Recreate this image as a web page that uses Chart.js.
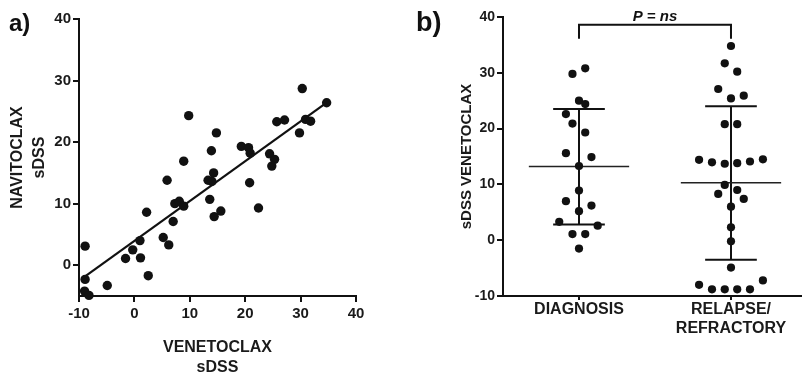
<!DOCTYPE html>
<html><head><meta charset="utf-8">
<script src="https://cdn.jsdelivr.net/npm/chart.js@4/dist/chart.umd.min.js"></script>
<style>
html,body{margin:0;padding:0;background:#fff;width:805px;height:378px;overflow:hidden}
#wa{position:absolute;left:0;top:0;width:400px;height:378px}
#wb{position:absolute;left:400px;top:0;width:405px;height:378px}
.lab{position:absolute;font-family:"Liberation Sans",Arial,sans-serif;font-weight:bold;color:#111;line-height:1}
</style></head><body>
<div id="wa"><canvas id="ca"></canvas></div>
<div id="wb"><canvas id="cb"></canvas></div>
<div class="lab" style="left:9px;top:11px;font-size:24px">a)</div>
<div class="lab" style="left:416px;top:9px;font-size:27px">b)</div>
<script>
// ---------- Panel a data ----------
const venetoclaxSDSS = [-8.9,-8.9,-9.0,-8.2,-4.9,-1.6,-0.3,1.0,1.1,2.5,2.2,5.2,6.2,7.0,7.3,8.1,8.9,5.9,13.3,14.0,14.3,13.6,14.4,15.6,9.8,14.8,13.9,8.9,19.3,20.6,20.9,20.8,22.4,24.4,25.3,24.8,25.7,27.1,30.3,34.7,30.9,31.8,29.8];
const navitoclaxSDSS = [3.1,-2.3,-4.2,-4.9,-3.3,1.1,2.5,4.0,1.2,-1.7,8.6,4.5,3.3,7.1,10.0,10.4,9.6,13.8,13.8,13.6,15.0,10.7,7.9,8.8,24.3,21.5,18.6,16.9,19.3,19.1,18.2,13.4,9.3,18.1,17.2,16.1,23.3,23.6,28.7,26.4,23.7,23.4,21.5];
const fitLineX = [-8.9, 34.7];
const fitLineY = [-1.8, 26.4];
const aXTicks = [-10, 0, 10, 20, 30, 40];
const aYTicks = [0, 10, 20, 30, 40];

// ---------- Panel b data ----------
const categories = ['DIAGNOSIS', 'RELAPSE/\nREFRACTORY'];
const diagnosisValues = [29.8,30.8,25.0,24.4,22.6,20.9,19.3,15.6,14.9,13.3,8.9,7.0,6.2,5.2,3.3,2.6,1.1,1.1,-1.5];
const diagnosisJitter = [-0.043,0.041,0,0.041,-0.086,-0.043,0.041,-0.086,0.082,0,0,-0.086,0.082,0,-0.13,0.123,-0.043,0.041,0];
const relapseValues = [34.8,31.7,30.2,27.1,25.4,25.9,20.8,20.8,14.4,13.95,13.7,13.8,14.1,14.5,9.9,8.3,9.0,7.4,6.0,2.3,-0.2,-4.9,-8.0,-8.8,-8.8,-8.8,-8.8,-7.2];
const relapseJitter = [0,-0.041,0.041,-0.084,0,0.084,-0.041,0.041,-0.21,-0.125,-0.041,0.041,0.125,0.21,-0.041,-0.084,0.041,0.084,0,0,0,0,-0.21,-0.125,-0.041,0.041,0.125,0.21];
const groupMean = [13.2, 10.3];
const groupUpper = [23.5, 24.0];
const groupLower = [2.8, -3.5];
const bTicks = [-10, 0, 10, 20, 30, 40];
const pLabel = 'P = ns';

const FONT = '"Liberation Sans", Arial, sans-serif';
const INK = '#111';

function axisCommon(tickFontSize) {
  return {
    border: {display: true, color: INK, width: 2},
    grid: {drawOnChartArea: false, drawTicks: true, tickLength: 6, color: INK, tickColor: INK, lineWidth: 2, tickWidth: 2},
    ticks: {color: '#1a1a1a', font: {family: FONT, size: tickFontSize, weight: 'bold'}, padding: 2}
  };
}

// ---------- Chart a ----------
const axA = axisCommon(15), ayA = axisCommon(15);
axA.ticks.padding = 3;
new Chart(document.getElementById('ca'), {
  type: 'scatter',
  data: {
    datasets: [
      {data: venetoclaxSDSS.map((v, i) => ({x: v, y: navitoclaxSDSS[i]})), backgroundColor: INK, borderColor: INK, pointRadius: 4.7, pointBorderWidth: 0, clip: false, order: 0},
      {data: fitLineX.map((v, i) => ({x: v, y: fitLineY[i]})), showLine: true, borderColor: INK, borderWidth: 2.2, pointRadius: 0, clip: false, order: 1}
    ]
  },
  options: {
    responsive: true, maintainAspectRatio: false, animation: false,
    layout: {padding: {left: 0, top: 19, right: 44, bottom: 0}},
    plugins: {legend: {display: false}, tooltip: {enabled: false}},
    scales: {
      x: Object.assign(axA, {
        type: 'linear', min: -10, max: 40,
        afterBuildTicks: s => { s.ticks = aXTicks.map(v => ({value: v})); },
        afterFit: s => { s.height = 82; },
        title: {display: true, text: ['VENETOCLAX', 'sDSS'], color: '#1a1a1a', font: {family: FONT, size: 16, weight: 'bold', lineHeight: 1.25}, padding: {top: 0, bottom: 0}}
      }),
      y: Object.assign(ayA, {
        type: 'linear', min: -5, max: 40,
        afterBuildTicks: s => { s.ticks = aYTicks.map(v => ({value: v})); },
        afterFit: s => { s.width = 79; },
        title: {display: true, text: ['NAVITOCLAX', 'sDSS'], color: '#1a1a1a', font: {family: FONT, size: 16, weight: 'bold', lineHeight: 1.34}, padding: {top: 7, bottom: 0}}
      })
    }
  }
});

// ---------- Chart b ----------
const groups = [
  {vals: diagnosisValues, jit: diagnosisJitter},
  {vals: relapseValues, jit: relapseJitter}
];
const bDatasets = [];
groups.forEach((g, gi) => {
  const cx = gi + 1;
  bDatasets.push({data: g.vals.map((v, i) => ({x: cx + g.jit[i], y: v})), backgroundColor: INK, borderColor: INK, pointRadius: 4.1, pointBorderWidth: 0, clip: false, order: 0});
  // mean line
  bDatasets.push({data: [{x: cx - 0.33, y: groupMean[gi]}, {x: cx + 0.33, y: groupMean[gi]}], showLine: true, borderColor: '#222', borderWidth: 1.4, pointRadius: 0, clip: false, order: 1});
  // SD stem
  bDatasets.push({data: [{x: cx, y: groupLower[gi]}, {x: cx, y: groupUpper[gi]}], showLine: true, borderColor: INK, borderWidth: 2, pointRadius: 0, clip: false, order: 1});
  // caps
  bDatasets.push({data: [{x: cx - 0.17, y: groupUpper[gi]}, {x: cx + 0.17, y: groupUpper[gi]}], showLine: true, borderColor: INK, borderWidth: 2, pointRadius: 0, clip: false, order: 1});
  bDatasets.push({data: [{x: cx - 0.17, y: groupLower[gi]}, {x: cx + 0.17, y: groupLower[gi]}], showLine: true, borderColor: INK, borderWidth: 2, pointRadius: 0, clip: false, order: 1});
});
// significance bracket
bDatasets.push({data: [{x: 1, y: 36.1}, {x: 1, y: 38.6}, {x: 2, y: 38.6}, {x: 2, y: 36.1}], showLine: true, borderColor: INK, borderWidth: 2, pointRadius: 0, clip: false, order: 1});

const pTextPlugin = {
  id: 'ptext',
  afterDraw(chart) {
    const {ctx, scales: {x, y}} = chart;
    ctx.save();
    ctx.fillStyle = INK;
    ctx.font = 'italic bold 15px ' + FONT;
    ctx.textAlign = 'center';
    ctx.textBaseline = 'middle';
    const px = (x.getPixelForValue(1) + x.getPixelForValue(2)) / 2;
    ctx.fillText(pLabel, px, y.getPixelForValue(38.6) - 8);
    ctx.restore();
  }
};

const axB = axisCommon(16), ayB = axisCommon(14);
axB.grid.tickLength = 4;
new Chart(document.getElementById('cb'), {
  type: 'scatter',
  data: {datasets: bDatasets},
  plugins: [pTextPlugin],
  options: {
    responsive: true, maintainAspectRatio: false, animation: false,
    layout: {padding: {left: 0, top: 17, right: 0, bottom: 0}},
    plugins: {legend: {display: false}, tooltip: {enabled: false}},
    scales: {
      x: Object.assign(axB, {
        type: 'linear', min: 0.5, max: 2.46,
        afterBuildTicks: s => { s.ticks = categories.map((c, i) => ({value: i + 1})); },
        afterFit: s => { s.height = 82; },
        ticks: {color: '#1a1a1a', font: {family: FONT, size: 16, weight: 'bold', lineHeight: 1.2}, padding: 0,
          callback: (v) => { const c = categories[Math.round(v) - 1]; return c ? c.split('\n') : ''; }}
      }),
      y: Object.assign(ayB, {
        type: 'linear', min: -10, max: 40,
        afterBuildTicks: s => { s.ticks = bTicks.map(v => ({value: v})); },
        afterFit: s => { s.width = 103; },
        title: {display: true, text: 'sDSS VENETOCLAX', color: '#1a1a1a', font: {family: FONT, size: 15, weight: 'bold', lineHeight: 1.2}, padding: {top: 58, bottom: 0}}
      })
    }
  }
});
</script>
</body></html>
